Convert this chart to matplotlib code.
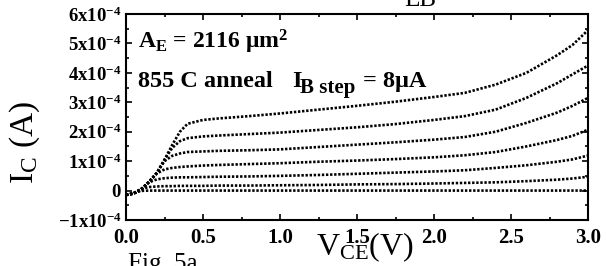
import matplotlib
matplotlib.use("Agg")
import matplotlib.pyplot as plt
import numpy as np
from matplotlib.ticker import MultipleLocator, FixedLocator, FixedFormatter

plt.rcParams['font.family'] = ['Liberation Serif', 'DejaVu Serif']
plt.rcParams['mathtext.fontset'] = 'custom'
plt.rcParams['mathtext.rm'] = 'Liberation Serif'
plt.rcParams['mathtext.it'] = 'Liberation Serif:italic'
plt.rcParams['mathtext.bf'] = 'Liberation Serif:bold'

# V_CE sample points (V)
vce = [0, 0.05, 0.1, 0.15, 0.2, 0.25, 0.3, 0.35, 0.4, 0.5, 0.6, 0.8, 1.0,
       1.25, 1.5, 1.75, 2.0, 2.2, 2.4, 2.6, 2.8, 2.9, 3.0]

# I_C curves in units of 1e-4 A, I_B = 48, 40, 32, 24, 16, 8, 0 uA
ic_48 = [-0.15, -0.1, 0.05, 0.3, 0.6, 1.05, 1.55, 2.0, 2.27, 2.4, 2.45, 2.53, 2.62,
         2.75, 2.88, 3.02, 3.18, 3.32, 3.6, 4.0, 4.6, 4.95, 5.45]
ic_40 = [-0.15, -0.1, 0.05, 0.3, 0.6, 1.05, 1.45, 1.68, 1.78, 1.84, 1.87, 1.92, 1.97,
         2.06, 2.15, 2.26, 2.4, 2.53, 2.75, 3.15, 3.65, 3.95, 4.25]
ic_32 = [-0.15, -0.1, 0.05, 0.3, 0.6, 1.0, 1.18, 1.26, 1.31, 1.33, 1.35, 1.37, 1.40,
         1.48, 1.56, 1.64, 1.73, 1.82, 2.0, 2.3, 2.65, 2.88, 3.15]
ic_24 = [-0.15, -0.1, 0.05, 0.3, 0.58, 0.72, 0.77, 0.8, 0.82, 0.85, 0.87, 0.9, 0.93,
         0.98, 1.02, 1.07, 1.13, 1.2, 1.31, 1.5, 1.72, 1.86, 2.07]
ic_16 = [-0.15, -0.1, 0.05, 0.28, 0.38, 0.42, 0.44, 0.45, 0.45, 0.46, 0.47, 0.48, 0.50,
         0.53, 0.57, 0.61, 0.65, 0.69, 0.77, 0.86, 0.98, 1.06, 1.19]
ic_8 = [-0.15, -0.08, 0.06, 0.12, 0.14, 0.15, 0.15, 0.16, 0.16, 0.16, 0.17, 0.17, 0.18,
        0.19, 0.21, 0.22, 0.24, 0.26, 0.28, 0.32, 0.37, 0.41, 0.47]
ic_0 = [-0.15, -0.08, -0.01, 0, 0, 0, 0, 0, 0, 0, 0, 0, 0,
        0, 0, 0, 0, 0, 0, 0, 0, 0, 0]
curves = [ic_48, ic_40, ic_32, ic_24, ic_16, ic_8, ic_0]
unit = 1e-4

y_ticks = [-1e-4, 0, 1e-4, 2e-4, 3e-4, 4e-4, 5e-4, 6e-4]
y_labels = [r"$\mathbf{-1x10^{-4}}$", r"$\mathbf{0}$", r"$\mathbf{1x10^{-4}}$",
            r"$\mathbf{2x10^{-4}}$", r"$\mathbf{3x10^{-4}}$", r"$\mathbf{4x10^{-4}}$",
            r"$\mathbf{5x10^{-4}}$", r"$\mathbf{6x10^{-4}}$"]
x_ticks = [0.0, 0.5, 1.0, 1.5, 2.0, 2.5, 3.0]
x_labels = ["0.0", "0.5", "1.0", "1.5", "2.0", "2.5", "3.0"]

W, H = 606, 266
fig = plt.figure(figsize=(W/100, H/100), dpi=100)
ax = fig.add_axes([126/W, 1-220/H, (588-126)/W, (220-14)/H])

for c in curves:
    ax.plot(vce, np.array(c) * unit, color='black', lw=1.9,
            linestyle=(0, (0.9, 0.65)))

ax.set_xlim(0, 3.0)
ax.set_ylim(-1e-4, 6e-4)
ax.yaxis.set_major_locator(FixedLocator(y_ticks))
ax.yaxis.set_major_formatter(FixedFormatter(y_labels))
ax.yaxis.set_minor_locator(MultipleLocator(0.5e-4))
ax.xaxis.set_major_locator(FixedLocator(x_ticks))
ax.xaxis.set_major_formatter(FixedFormatter(x_labels))
ax.xaxis.set_minor_locator(MultipleLocator(0.25))
ax.tick_params(which='both', direction='in', top=True, right=True, width=1.2)
ax.tick_params(which='major', length=4)
ax.tick_params(which='minor', length=2.5)
ax.tick_params(axis='y', which='major', pad=3, labelsize=13.5)
ax.tick_params(axis='x', which='major', pad=6, labelsize=15)
for lab in ax.get_xticklabels():
    lab.set_fontweight('bold')
for s in ax.spines.values():
    s.set_linewidth(1.5)

def px(x, y):
    return x / W, 1 - y / H

fig.text(*px(138, 49), r"A$_\mathbf{E}$ = 2116 μm$^\mathbf{2}$",
         fontsize=17, fontweight='bold', va='baseline', ha='left')
fig.text(*px(138, 87), "855 C anneal", fontsize=17.5, fontweight='bold',
         va='baseline', ha='left')
fig.text(*px(292, 87), "I", fontsize=17.5, fontweight='bold',
         va='baseline', ha='left')
fig.text(*px(300, 93), "B step", fontsize=15, fontweight='bold',
         va='baseline', ha='left')
fig.text(*px(363, 87), "= 8μA", fontsize=17.5, fontweight='bold',
         va='baseline', ha='left')

fig.text(*px(25, 143), r"I$_\mathrm{C}$ (A)", rotation=90, fontsize=24,
         ha='center', va='center')
fig.text(*px(365, 247), r"V$_\mathrm{CE}$(V)", fontsize=23,
         ha='center', va='center')
fig.text(*px(128, 264), "Fig. 5a", fontsize=18, ha='left', va='center')
fig.text(*px(420, 0), r"EB", fontsize=18, ha='center', va='center')

fig.savefig("out.png", dpi=100)
